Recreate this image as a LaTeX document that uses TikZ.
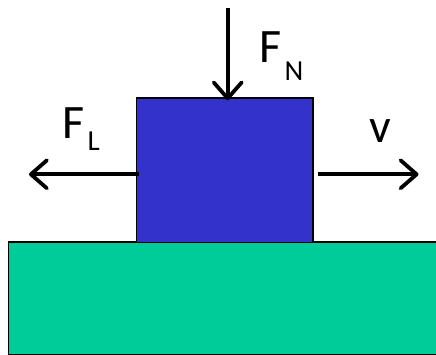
\documentclass[tikz,border=0pt]{standalone}
\usepackage{fontspec}
\setmainfont{Carlito}
\usetikzlibrary{arrows.meta}
\definecolor{blockblue}{HTML}{3333CC}
\definecolor{groundgreen}{HTML}{00CC99}
\tikzset{
  body/.style={draw=black, line width=1.5pt, inner sep=0pt},
  force/.style={line width=3.8pt, -{Straight Barb[length=16pt,width=28pt,round]}},
  lbl/.style={inner sep=0pt, anchor=base west, font=\fontsize{48}{48}\selectfont},
  sublbl/.style={inner sep=0pt, anchor=base west, font=\fontsize{29}{29}\selectfont}
}
\begin{document}
\begin{tikzpicture}[x=1pt,y=-1pt]
\useasboundingbox (0,0) rectangle (436,355);
\node[body, fill=groundgreen, minimum width=440pt, minimum height=112.5pt, anchor=north west] (ground) at (7.7,241.5) {};
\node[body, fill=blockblue, minimum width=176.3pt, minimum height=144.3pt, anchor=north west] (block) at (135.7,97.3) {};
\coordinate (ntop) at (227.7,8);
\coordinate (ltip) at (29,174.3);
\coordinate (rtip) at (418.5,174.3);
\draw[force] (ntop) -- ([yshift=-3pt]block.north -| ntop);
\draw[force] ([xshift=3.5pt]block.west |- ltip) -- (ltip);
\draw[force] ([xshift=4.3pt]block.east |- rtip) -- (rtip);
\node[lbl] (fn) at (259.5,63) {F};
\node[sublbl] (fnsub) at (284.5,80.5) {N};
\node[lbl] (fl) at (62.7,138.3) {F};
\node[sublbl] (flsub) at (87.5,151) {L};
\node[lbl] (v) at (369,142.3) {v};
\end{tikzpicture}
\end{document}
